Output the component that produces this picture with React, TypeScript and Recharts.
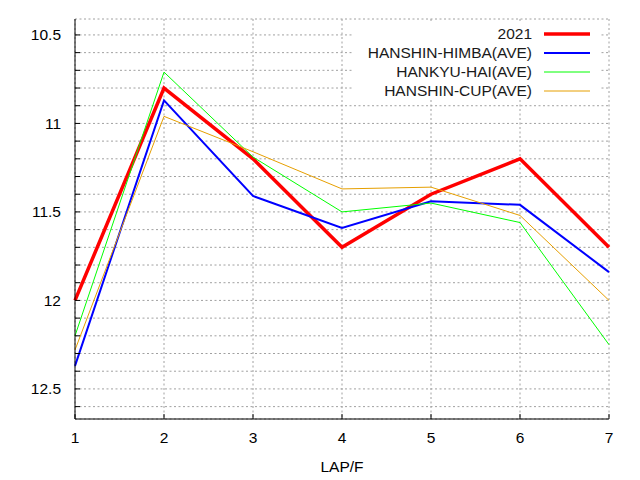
import React from 'react';
import { LineChart, Line, XAxis, YAxis, CartesianGrid, Legend, Label } from 'recharts';

const laps = [1, 2, 3, 4, 5, 6, 7];
const r2021 = [12.0, 10.8, 11.2, 11.7, 11.4, 11.2, 11.7];
const himba = [12.37, 10.87, 11.41, 11.59, 11.44, 11.46, 11.84];
const hankyu = [12.2, 10.71, 11.19, 11.5, 11.45, 11.56, 12.25];
const cup = [12.28, 10.96, 11.16, 11.37, 11.36, 11.52, 12.0];

const xTicks = [1, 2, 3, 4, 5, 6, 7];
const yTicks = [10.5, 10.6, 10.7, 10.8, 10.9, 11, 11.1, 11.2, 11.3, 11.4, 11.5, 11.6, 11.7, 11.8, 11.9, 12, 12.1, 12.2, 12.3, 12.4, 12.5, 12.6];
const yLabels = [10.5, 11, 11.5, 12, 12.5];

const series = [
  { key: 'r2021', name: '2021', color: '#ff0000', width: 3.5 },
  { key: 'himba', name: 'HANSHIN-HIMBA(AVE)', color: '#0000ff', width: 2 },
  { key: 'hankyu', name: 'HANKYU-HAI(AVE)', color: '#00ff00', width: 1 },
  { key: 'cup', name: 'HANSHIN-CUP(AVE)', color: '#e69f00', width: 1 },
];

const data = laps.map((lap, i) => ({
  lap,
  r2021: r2021[i],
  himba: himba[i],
  hankyu: hankyu[i],
  cup: cup[i],
}));

const FONT = '"Liberation Sans", Arial, sans-serif';
const tickStyle = { fontSize: 15.5, fill: '#000', fontFamily: FONT };

// gnuplot-style key: opaque box, text right aligned, sample line after it
function Key() {
  return (
    <div style={{ fontFamily: FONT, fontSize: 15.5, color: '#1a1a1a', background: '#fff', width: 237, padding: '1px 10px 0 0' }}>
      {series.map((s) => (
        <div key={s.key} style={{ display: 'flex', alignItems: 'center', justifyContent: 'flex-end', height: 19 }}>
          <span style={{ marginRight: 12 }}>{s.name}</span>
          <svg width={46} height={8}>
            <line x1={0} x2={46} y1={4} y2={4} stroke={s.color} strokeWidth={s.width} />
          </svg>
        </div>
      ))}
    </div>
  );
}

export default function App() {
  return (
    <div style={{ position: 'absolute', left: 0, top: 0, width: 640, height: 480, background: '#fff' }}>
      <LineChart width={640} height={480} data={data} margin={{ top: 19, right: 31, bottom: 0, left: 0 }}>
        <CartesianGrid stroke="#a0a0a0" strokeDasharray="2 2.5" />
        <XAxis
          dataKey="lap"
          type="number"
          domain={[1, 7]}
          ticks={xTicks}
          height={61}
          tickSize={-5}
          tickMargin={18}
          tick={tickStyle}
          axisLine={{ stroke: '#000' }}
          tickLine={{ stroke: '#000' }}
        >
          <Label value="LAP/F" position="insideBottom" offset={8} style={{ fontSize: 15.5, fill: '#000', fontFamily: FONT }} />
        </XAxis>
        <XAxis
          xAxisId="top"
          orientation="top"
          dataKey="lap"
          type="number"
          domain={[1, 7]}
          ticks={xTicks}
          height={0}
          tickSize={-5}
          tick={false}
          axisLine={{ stroke: '#000' }}
          tickLine={{ stroke: '#000' }}
        />
        <YAxis
          type="number"
          reversed
          domain={[10.41, 12.67]}
          allowDataOverflow
          ticks={yTicks}
          interval={0}
          width={75}
          tickSize={-5}
          tickMargin={19}
          tick={tickStyle}
          tickFormatter={(v: number) => (yLabels.includes(v) ? String(v) : '')}
          axisLine={{ stroke: '#000' }}
          tickLine={{ stroke: '#000' }}
        />
        <YAxis
          yAxisId="right"
          orientation="right"
          type="number"
          reversed
          domain={[10.41, 12.67]}
          allowDataOverflow
          ticks={yTicks}
          interval={0}
          width={0}
          tickSize={-5}
          tick={false}
          axisLine={{ stroke: '#000' }}
          tickLine={{ stroke: '#000' }}
        />
        <Legend
          layout="vertical"
          align="center"
          verticalAlign="middle"
          content={() => <Key />}
          wrapperStyle={{ top: 23, right: 40, left: 'auto', bottom: 'auto', width: 'auto', height: 'auto' }}
        />
        {series.map((s) => (
          <Line
            key={s.key}
            type="linear"
            dataKey={s.key}
            name={s.name}
            stroke={s.color}
            strokeWidth={s.width}
            dot={false}
            isAnimationActive={false}
          />
        ))}
      </LineChart>
    </div>
  );
}
